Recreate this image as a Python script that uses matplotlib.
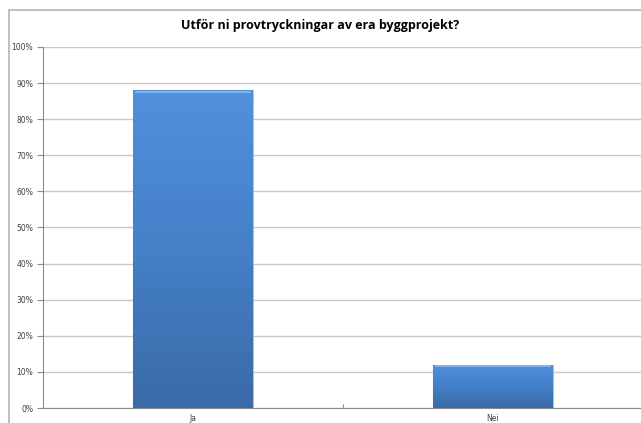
import numpy as np
import matplotlib
matplotlib.use('Agg')
import matplotlib.pyplot as plt
from matplotlib.patches import Rectangle
from matplotlib.colors import LinearSegmentedColormap

# data
categories = ['Ja', 'Nei']
values = [88, 12]
yticks = [0, 10, 20, 30, 40, 50, 60, 70, 80, 90, 100]

W, H = 641, 423
fig = plt.figure(figsize=(W / 100, H / 100), dpi=100)

# outer chart border (extends past the image on right/bottom)
fig.patches.append(Rectangle((9 / W, -0.1), 1.2, 1 - 10 / H + 0.1, transform=fig.transFigure,
                             fill=False, edgecolor='#b4b4b4', linewidth=1.2))

ax = fig.add_axes([43 / W, 1 - 408 / H, 600 / W, 361 / H])
x = np.arange(len(categories))
bars = ax.bar(x, values, width=0.4, color='#4a86cc', edgecolor='#a9c4e6', linewidth=0.8, zorder=3)

# vertical gradient fill on each bar
cmap = LinearSegmentedColormap.from_list('bar', ['#3a6aa6', '#4580c8', '#5190dc'])
grad = np.linspace(0, 1, 256).reshape(-1, 1)
for b in bars:
    bx, by = b.get_x(), b.get_y()
    bw, bh = b.get_width(), b.get_height()
    im = ax.imshow(grad, cmap=cmap, origin='lower', aspect='auto',
                   extent=[bx, bx + bw, by, by + bh], zorder=3)
    im.set_clip_path(b)
    ax.plot([bx + 0.01, bx + bw - 0.01], [bh - 0.5, bh - 0.5], color='#8dbdf2', lw=1.2, zorder=4)

ax.set_xlim(-0.5, 1.5)
ax.set_ylim(0, 100)
ax.set_yticks(yticks)
ax.set_yticklabels([f'{t}%' for t in yticks], fontsize=5.5, color='#404040')
ax.set_xticks([0.5])
ax.set_xticklabels([''])
ax.tick_params(axis='y', length=4, color='#8c8c8c', pad=3)
ax.tick_params(axis='x', length=3, color='#8c8c8c', direction='in')
for i, c in enumerate(categories):
    ax.text(x[i], -1.8, c, ha='center', va='top', fontsize=5.5, color='#404040')

ax.grid(axis='y', color='#c8c8c8', linewidth=1, zorder=0)
ax.set_axisbelow(True)
for s in ['top', 'right']:
    ax.spines[s].set_visible(False)
ax.spines['left'].set_color('#8c8c8c')
ax.spines['bottom'].set_color('#8c8c8c')

fig.text(320 / W, 1 - 26 / H, 'Utför ni provtryckningar av era byggprojekt?', ha='center', va='center',
         fontsize=9, fontweight='bold', family='Open Sans', color='#000000')

fig.savefig('out.png', dpi=100)
